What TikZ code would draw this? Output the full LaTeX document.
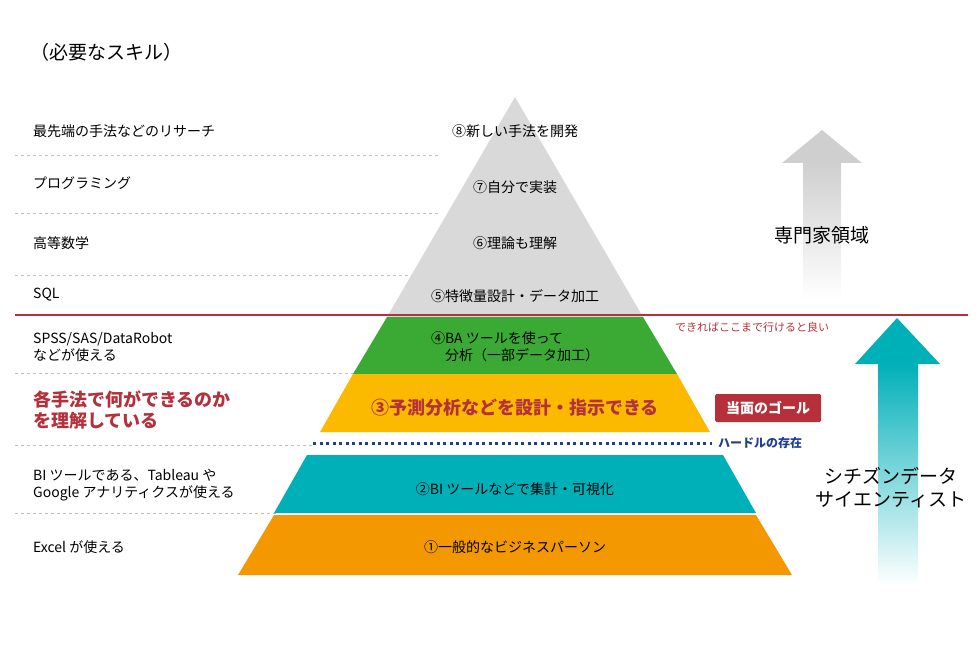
\documentclass[tikz,border=0pt]{standalone}
\usepackage{fontspec}
\setmainfont{Noto Sans CJK JP}
\newfontfamily\jpb[BoldFont={Noto Sans CJK JP Bold}]{Noto Sans CJK JP}
\definecolor{pgray}{HTML}{D9D9D9}
\definecolor{pgreen}{HTML}{3AAA35}
\definecolor{pyellow}{HTML}{FBBA00}
\definecolor{pteal}{HTML}{00B0B9}
\definecolor{porange}{HTML}{F39800}
\definecolor{pred}{HTML}{B5303A}
\definecolor{pblue}{HTML}{1F3F8F}
\definecolor{agray}{HTML}{CFCFCF}
\begin{document}
\begin{tikzpicture}[x=1pt,y=-1pt,
  lbl/.style={anchor=west,font=\fontsize{14}{17}\selectfont,align=left,inner sep=0},
  plbl/.style={font=\fontsize{14}{17}\selectfont,align=left,inner sep=0},
  sep/.style={draw=black!25,dashed,line width=0.6pt}]
\useasboundingbox (0,0) rectangle (980,650);
% separators
\foreach \y/\xr in {155/440,213/440,275/440,373/354,445/313,513/276}
  \draw[sep] (15,\y) -- (\xr,\y);
% pyramid
\fill[pgray] (515,97) -- (643,317) -- (387,317) -- cycle;
\fill[pgreen] (387,317) -- (643,317) -- (677,374) -- (353,374) -- cycle;
\fill[pyellow] (353,374) -- (677,374) -- (710,432) -- (320,432) -- cycle;
\fill[pteal] (307,455) -- (723,455) -- (756,513) -- (274,513) -- cycle;
\fill[porange] (274,515) -- (756,515) -- (792,575) -- (238,575) -- cycle;
% red line & dotted
\draw[pred,line width=2.5pt] (15,315) -- (968,315);
\draw[pblue,line width=3pt,dash pattern=on 3pt off 3.5pt] (313,443) -- (712,443);
% arrows
\fill[agray] (822,130) -- (862,163) -- (782,163) -- cycle;
\shade[top color=agray,bottom color=white] (803,162.5) rectangle (841,300);
\fill[pteal] (897,318) -- (940,364) -- (855,364) -- cycle;
\shade[top color=pteal,bottom color=white] (878,363.5) rectangle (918,585);
% title
\node[lbl,font=\fontsize{19}{22}\selectfont] (title) at (30,52) {（必要なスキル）};
% left labels
\node[lbl] (l8) at (33,131) {最先端の手法などのリサーチ};
\node[lbl] (l7) at (33,183) {プログラミング};
\node[lbl] (l6) at (33,243) {高等数学};
\node[lbl] (l5) at (33,295) {SQL};
\node[lbl] (l4) at (33,347) {SPSS/SAS/DataRobot\\などが使える};
\node[lbl,text=pred,font=\fontsize{18}{21}\selectfont\bfseries] (l3) at (33,410) {各手法で何ができるのか\\を理解している};
\node[lbl] (l2) at (33,485) {BI ツールである、Tableau や\\Google アナリティクスが使える};
\node[lbl] (l1) at (33,547) {Excel が使える};
% pyramid labels
\node[plbl] (p8) at (515,131) {⑧新しい手法を開発};
\node[plbl] (p7) at (515,187) {⑦自分で実装};
\node[plbl] (p6) at (515,243) {⑥理論も理解};
\node[plbl] (p5) at (515,296) {⑤特徴量設計・データ加工};
\node[plbl] (p4) at (515,347) {④BA ツールを使って\\\hspace*{1em}分析（一部データ加工）};
\node[plbl,text=pred,font=\fontsize{18}{21}\selectfont\bfseries] (p3) at (515,408) {③予測分析などを設計・指示できる};
\node[plbl] (p2) at (515,489) {②BI ツールなどで集計・可視化};
\node[plbl] (p1) at (515,547) {①一般的なビジネスパーソン};
% right labels
\node[font=\fontsize{11}{13}\selectfont,text=pred,inner sep=0] (good) at (752,327) {できればここまで行けると良い};
\node[fill=pred,text=white,font=\fontsize{14}{16}\selectfont\bfseries,minimum width=106pt,minimum height=28pt,rounded corners=1.5pt] (goal) at (768,408) {当面のゴール};
\node[anchor=west,text=pblue,font=\fontsize{12}{14}\selectfont\bfseries,inner sep=0] (hurdle) at (718,443) {ハードルの存在};
\node[font=\fontsize{19}{22}\selectfont,inner sep=0] (expert) at (822,235) {専門家領域};
\node[font=\fontsize{19}{23}\selectfont,align=center,inner sep=0] (citizen) at (891,488) {シチズンデータ\\サイエンティスト};
\end{tikzpicture}
\end{document}
